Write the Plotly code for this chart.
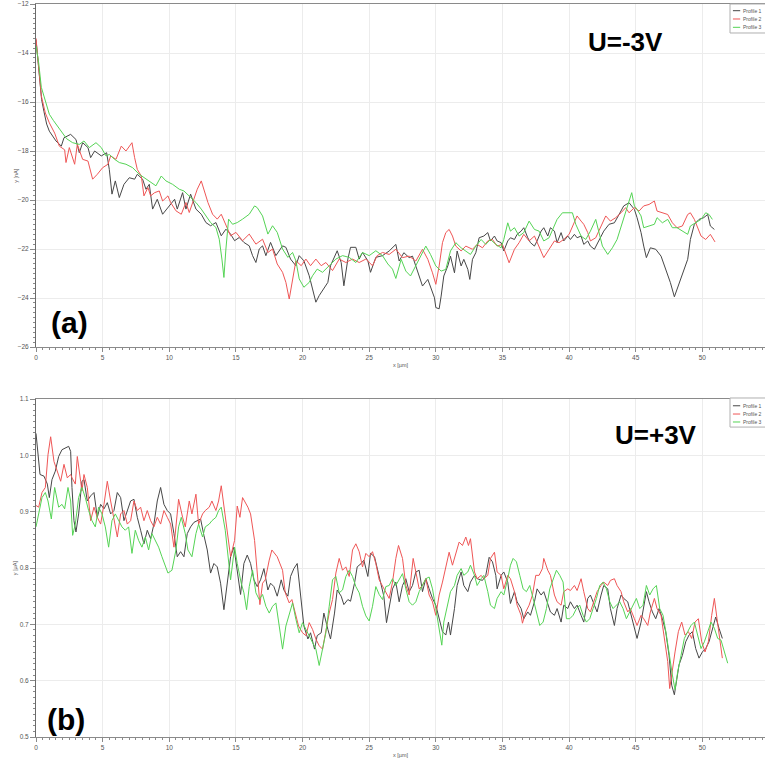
import plotly.graph_objects as go

# ---------------- U = -3 V : current profiles (nA) ----------------
x_a1 = [0, 0.15, 0.3, 0.42, 0.6, 0.8, 1.0, 1.5, 1.9, 2.1, 2.6, 3.0, 3.25, 3.5, 3.9, 4.1, 4.4, 4.9, 5.3, 5.5,
        5.7, 5.95, 6.25, 6.6, 7.0, 7.4, 7.6, 8.0, 8.25, 8.5, 8.75, 9.1, 9.5, 10.0, 10.4, 10.6, 11.0, 11.25, 11.6, 12.0,
        12.4, 12.75, 13.1, 13.5, 13.9, 14.25, 14.6, 14.9, 15.25, 15.6, 16.0, 16.25, 16.5, 16.75, 17.0, 17.25, 17.6, 18.0,
        18.5, 18.75, 19.1, 19.5, 19.75, 20.1, 20.5, 20.75, 21.0, 21.25, 21.5, 21.9, 22.1, 22.4, 22.6, 22.9, 23.1, 23.4,
        23.6, 24.0, 24.25, 24.5, 24.9, 25.1, 25.5, 26.0, 26.5, 27.0, 27.25, 27.6, 28.0, 28.25, 28.6, 29.0, 29.4, 29.6,
        29.9, 30.0, 30.25, 30.4, 30.6, 30.9, 31.1, 31.4, 31.6, 31.9, 32.1, 32.4, 32.55, 32.75, 33.0, 33.25, 33.6, 33.9,
        34.1, 34.4, 34.6, 34.9, 35.1, 35.4, 35.6, 35.9, 36.1, 36.4, 36.6, 36.9, 37.1, 37.4, 37.6, 37.9, 38.1, 38.4,
        38.6, 38.9, 39.1, 39.4, 39.6, 39.9, 40.1, 40.4, 40.6, 40.9, 41.1, 41.4, 41.6, 41.9, 42.1, 42.4, 42.6, 43.0,
        43.4, 43.75, 44.1, 44.5, 44.9, 45.1, 45.4, 45.6, 45.8, 46.1, 46.5, 46.9, 47.25, 47.6, 47.9, 48.1, 48.5, 48.9,
        49.1, 49.4, 49.75, 50.1, 50.4, 50.6, 50.9]
y_a1 = [-13.45, -14.3, -15.2, -15.9, -16.4, -16.9, -17.19, -17.59, -17.8, -17.46, -17.32, -17.53, -18.07, -17.66,
        -17.86, -18.27, -18.0, -18.2, -18.07, -18.75, -19.76, -19.22, -19.9, -19.36, -19.09, -19.15, -18.95, -19.15,
        -19.56, -19.36, -20.37, -19.97, -20.58, -20.24, -19.97, -20.37, -19.7, -20.37, -19.76, -20.37, -20.58, -20.92,
        -21.05, -20.92, -21.46, -21.19, -21.39, -21.66, -21.53, -21.73, -21.87, -22.27, -22.55, -22.0, -21.87, -22.27,
        -21.73, -22.27, -21.87, -21.93, -22.41, -22.68, -22.27, -22.48, -23.09, -23.63, -24.17, -23.9, -23.7, -23.36,
        -22.68, -22.27, -22.07, -22.55, -23.5, -22.41, -21.93, -21.93, -22.41, -22.14, -22.48, -22.95, -22.34, -22.27,
        -22.08, -21.81, -22.49, -22.15, -22.35, -22.29, -22.83, -23.51, -23.24, -23.51, -23.99, -24.39, -24.44, -23.92,
        -23.1, -22.69, -22.29, -22.97, -22.08, -22.69, -22.42, -22.83, -23.24, -22.42, -22.15, -21.54, -21.47, -21.33,
        -21.67, -21.47, -21.67, -21.74, -22.08, -21.67, -21.54, -21.61, -21.4, -21.27, -21.13, -21.54, -21.74, -21.88,
        -21.67, -21.27, -21.13, -21.47, -21.13, -21.27, -21.74, -21.33, -21.67, -21.47, -21.61, -21.4, -21.54, -21.47,
        -21.81, -21.67, -21.88, -22.01, -21.81, -21.47, -21.27, -20.99, -20.93, -20.59, -20.24, -20.11, -20.38, -20.72,
        -21.33, -21.88, -22.35, -21.95, -22.01, -22.29, -22.83, -23.37, -23.95, -23.65, -23.1, -22.42, -21.61, -20.99,
        -20.79, -20.72, -20.59, -21.06, -21.2]

x_a2 = [0, 0.2, 0.4, 0.7, 1.0, 1.4, 1.75, 2.15, 2.25, 2.5, 2.9, 3.1, 3.5, 3.9, 4.25, 4.6, 5.0, 5.4, 5.6, 6.0, 6.4,
        6.75, 7.0, 7.2, 7.4, 7.6, 7.9, 8.1, 8.4, 8.6, 8.9, 9.25, 9.5, 9.9, 10.1, 10.5, 10.9, 11.25, 11.5, 11.9, 12.1,
        12.4, 12.6, 12.9, 13.25, 13.6, 13.9, 14.25, 14.6, 15.0, 15.5, 16.0, 16.5, 17.0, 17.4, 17.75, 18.1, 18.5, 18.75,
        19.0, 19.25, 19.5, 19.9, 20.25, 20.6, 21.0, 21.4, 21.75, 22.25, 22.75, 23.25, 23.75, 24.25, 24.75, 25.25, 25.6,
        26.0, 26.5, 27.0, 27.5, 28.0, 28.5, 29.0, 29.4, 29.75, 30.0, 30.25, 30.5, 30.75, 31.0, 31.25, 31.5, 31.9, 32.25,
        32.75, 33.1, 33.5, 33.9, 34.25, 34.6, 35.0, 35.25, 35.5, 35.9, 36.25, 36.6, 37.0, 37.4, 37.75, 38.1, 38.5, 38.9,
        39.25, 39.6, 40.0, 40.4, 40.6, 40.9, 41.1, 41.4, 41.6, 42.0, 42.4, 42.75, 43.1, 43.5, 43.9, 44.25, 44.5, 44.9,
        45.25, 45.6, 46.0, 46.4, 46.6, 47.0, 47.4, 47.75, 48.1, 48.5, 48.9, 49.1, 49.4, 49.6, 49.9, 50.25, 50.6, 50.95]
y_a2 = [-13.4, -14.5, -15.75, -16.45, -16.85, -17.27, -17.8, -17.95, -18.47, -17.86, -18.54, -17.73, -18.34, -18.41,
        -19.15, -18.95, -18.68, -18.54, -18.2, -18.34, -17.8, -18.0, -17.8, -17.66, -18.27, -18.75, -19.02, -19.83,
        -19.49, -19.83, -19.7, -19.63, -20.04, -19.83, -20.1, -20.44, -20.58, -20.1, -20.51, -19.83, -19.56, -19.22,
        -19.56, -20.1, -20.58, -20.78, -20.58, -20.99, -21.46, -21.32, -21.66, -21.39, -21.8, -21.6, -22.14, -22.0,
        -22.61, -22.95, -23.36, -24.04, -23.22, -22.48, -22.68, -22.41, -22.68, -22.41, -22.68, -22.55, -22.88, -22.41,
        -22.55, -22.41, -22.55, -22.41, -22.68, -22.27, -22.14, -22.22, -22.01, -22.35, -22.29, -22.49, -22.01, -22.42,
        -22.97, -23.44, -22.69, -21.74, -21.33, -21.2, -21.47, -21.88, -22.08, -21.88, -22.01, -21.81, -21.95, -21.67,
        -21.61, -21.88, -21.81, -22.22, -22.56, -22.01, -21.74, -21.4, -21.67, -21.47, -21.88, -22.35, -22.01, -21.67,
        -21.74, -21.61, -21.4, -20.93, -20.65, -20.86, -20.99, -21.33, -21.67, -21.54, -21.06, -20.65, -20.86, -20.72,
        -20.52, -20.31, -20.52, -20.31, -20.45, -20.24, -20.18, -20.04, -20.45, -20.52, -20.59, -20.93, -21.13, -21.06,
        -20.59, -20.52, -20.79, -21.06, -21.47, -21.61, -21.4, -21.71]

x_a3 = [0, 0.2, 0.4, 0.8, 1.0, 1.3, 1.8, 2.3, 2.75, 3.25, 3.6, 4.0, 4.5, 4.9, 5.25, 5.5, 5.9, 6.25, 6.75, 7.25, 7.75,
        8.1, 8.5, 9.0, 9.4, 9.75, 10.25, 10.75, 11.1, 11.5, 12.0, 12.4, 12.75, 13.1, 13.5, 13.75, 13.95, 14.1, 14.25,
        14.45, 14.75, 15.1, 15.5, 16.0, 16.4, 16.6, 17.0, 17.4, 17.75, 18.1, 18.5, 18.9, 19.25, 19.5, 19.75, 20.1, 20.5,
        20.75, 21.1, 21.5, 22.0, 22.5, 23.0, 23.5, 24.0, 24.5, 25.0, 25.5, 26.0, 26.4, 26.75, 27.0, 27.4, 27.75, 28.1,
        28.5, 28.9, 29.25, 29.6, 30.0, 30.4, 30.75, 31.1, 31.5, 31.9, 32.25, 32.6, 33.0, 33.4, 33.75, 34.1, 34.5, 34.9,
        35.1, 35.4, 35.6, 35.9, 36.25, 36.6, 37.0, 37.4, 37.75, 38.1, 38.5, 38.9, 39.1, 39.5, 39.9, 40.25, 40.5, 40.9,
        41.25, 41.6, 42.0, 42.25, 42.5, 42.9, 43.25, 43.6, 44.0, 44.3, 44.55, 44.7, 44.9, 45.1, 45.4, 45.6, 46.0, 46.4,
        46.6, 47.0, 47.4, 47.75, 48.1, 48.5, 48.9, 49.1, 49.5, 49.9, 50.25, 50.5, 50.75]
y_a3 = [-13.7, -14.4, -15.4, -16.2, -16.5, -16.75, -17.15, -17.5, -17.66, -17.73, -17.59, -17.86, -17.66, -17.86,
        -18.2, -18.14, -18.34, -18.47, -18.54, -18.68, -18.95, -19.09, -19.22, -19.42, -19.02, -19.22, -19.36, -19.56,
        -19.63, -19.83, -20.1, -20.37, -20.65, -20.92, -21.12, -21.6, -22.41, -23.16, -22.0, -20.78, -20.99, -20.92,
        -20.78, -20.58, -20.24, -20.31, -20.65, -21.39, -21.05, -21.32, -22.0, -22.34, -22.14, -22.48, -23.22, -23.56,
        -23.36, -23.09, -22.82, -22.95, -22.68, -22.41, -22.27, -22.34, -22.55, -22.14, -22.27, -22.07, -22.27, -22.61,
        -22.82, -23.2, -22.42, -22.9, -23.1, -22.69, -22.22, -21.88, -22.22, -22.69, -22.9, -22.83, -22.08, -21.74,
        -21.95, -22.08, -22.22, -21.88, -21.61, -21.81, -21.61, -21.81, -21.95, -21.61, -20.93, -21.27, -21.13, -21.47,
        -21.33, -20.86, -21.2, -21.27, -21.67, -21.54, -21.06, -20.79, -20.52, -20.52, -20.52, -20.99, -21.47, -21.61,
        -21.27, -20.79, -21.33, -21.88, -22.22, -21.95, -21.61, -20.93, -20.38, -20.04, -19.7, -20.24, -20.38, -20.65,
        -21.13, -21.06, -20.99, -20.72, -20.93, -20.79, -21.13, -21.13, -21.27, -21.4, -21.06, -20.93, -20.79, -20.52,
        -20.59, -20.79]

# ---------------- U = +3 V : current profiles (µA) ----------------
x_b1 = [0.0, 0.15, 0.3, 0.6, 0.85, 1.0, 1.2, 1.45, 1.7, 1.95, 2.2, 2.45, 2.6, 2.7, 2.85, 3.0, 3.2, 3.45, 3.6, 3.85,
        4.1, 4.35, 4.6, 4.85, 5.1, 5.35, 5.6, 5.85, 6.1, 6.35, 6.6, 6.85, 7.1, 7.35, 7.6, 7.85, 8.1, 8.35, 8.6, 8.85,
        9.1, 9.35, 9.6, 9.85, 10.1, 10.35, 10.6, 10.85, 11.1, 11.35, 11.6, 11.85, 12.1, 12.35, 12.6, 12.85, 13.1, 13.35,
        13.6, 13.85, 14.1, 14.35, 14.6, 14.85, 15.1, 15.35, 15.6, 15.85, 16.1, 16.35, 16.6, 16.85, 17.1, 17.4, 17.6,
        17.85, 18.1, 18.4, 18.6, 18.9, 19.1, 19.35, 19.6, 19.9, 20.1, 20.4, 20.6, 20.9, 21.1, 21.4, 21.6, 21.9, 22.1,
        22.4, 22.6, 22.9, 23.1, 23.4, 23.6, 23.9, 24.1, 24.4, 24.6, 24.9, 25.1, 25.4, 25.6, 25.9, 26.1, 26.3, 26.5,
        26.75, 27.0, 27.25, 27.5, 27.75, 28.0, 28.25, 28.5, 28.75, 29.0, 29.25, 29.5, 29.75, 30.0, 30.25, 30.5, 30.75,
        30.95, 31.1, 31.4, 31.6, 31.9, 32.1, 32.4, 32.6, 32.9, 33.1, 33.5, 33.75, 34.0, 34.25, 34.5, 34.6, 34.9, 35.1,
        35.4, 35.6, 35.9, 36.1, 36.4, 36.6, 36.9, 37.1, 37.4, 37.6, 37.9, 38.1, 38.4, 38.6, 38.9, 39.1, 39.4, 39.6,
        39.9, 40.1, 40.4, 40.6, 40.9, 41.1, 41.4, 41.6, 41.9, 42.1, 42.4, 42.6, 42.9, 43.1, 43.4, 43.6, 43.9, 44.1,
        44.4, 44.6, 44.9, 45.1, 45.4, 45.6, 45.8, 46.0, 46.25, 46.5, 46.75, 47.0, 47.25, 47.5, 47.7, 47.9, 48.05,
        48.25, 48.5, 48.75, 49.0, 49.25, 49.5, 49.75, 50.0, 50.25, 50.5, 50.75, 51.0, 51.25, 51.5]
y_b1 = [1.039, 1.001, 0.966, 0.963, 0.949, 0.925, 0.957, 0.972, 0.998, 1.010, 1.013, 1.016, 1.007, 0.943, 0.884,
        0.864, 0.896, 0.954, 0.957, 0.919, 0.928, 0.934, 0.890, 0.913, 0.905, 0.916, 0.896, 0.902, 0.934, 0.925,
        0.884, 0.902, 0.919, 0.922, 0.890, 0.867, 0.843, 0.867, 0.852, 0.878, 0.919, 0.943, 0.913, 0.902, 0.896,
        0.861, 0.820, 0.829, 0.820, 0.861, 0.873, 0.881, 0.884, 0.887, 0.858, 0.832, 0.791, 0.808, 0.802, 0.773,
        0.726, 0.773, 0.820, 0.837, 0.796, 0.753, 0.808, 0.823, 0.808, 0.779, 0.767, 0.779, 0.799, 0.761, 0.773,
        0.767, 0.750, 0.779, 0.761, 0.750, 0.785, 0.799, 0.808, 0.741, 0.697, 0.674, 0.685, 0.656, 0.680, 0.685,
        0.720, 0.691, 0.674, 0.720, 0.761, 0.750, 0.735, 0.744, 0.741, 0.773, 0.802, 0.808, 0.814, 0.785, 0.826,
        0.820, 0.799, 0.773, 0.750, 0.703, 0.732, 0.763, 0.775, 0.740, 0.769, 0.781, 0.758, 0.769, 0.793, 0.796,
        0.758, 0.781, 0.763, 0.746, 0.734, 0.710, 0.687, 0.681, 0.704, 0.681, 0.728, 0.769, 0.793, 0.769, 0.758,
        0.775, 0.787, 0.781, 0.778, 0.787, 0.819, 0.811, 0.787, 0.763, 0.787, 0.793, 0.775, 0.737, 0.758, 0.740,
        0.728, 0.710, 0.722, 0.716, 0.740, 0.763, 0.752, 0.758, 0.734, 0.722, 0.716, 0.728, 0.704, 0.734, 0.728,
        0.740, 0.728, 0.734, 0.716, 0.704, 0.746, 0.752, 0.734, 0.722, 0.752, 0.769, 0.763, 0.728, 0.698, 0.728,
        0.752, 0.746, 0.740, 0.722, 0.698, 0.675, 0.704, 0.734, 0.758, 0.740, 0.722, 0.710, 0.728, 0.710, 0.687,
        0.645, 0.592, 0.575, 0.598, 0.628, 0.645, 0.669, 0.681, 0.687, 0.657, 0.640, 0.651, 0.657, 0.669, 0.693,
        0.713, 0.693, 0.675]

x_b2 = [0.0, 0.2, 0.45, 0.7, 0.9, 1.1, 1.35, 1.6, 1.85, 2.1, 2.35, 2.6, 2.7, 2.95, 3.1, 3.35, 3.45, 3.6, 3.85, 4.1,
        4.35, 4.6, 4.85, 5.1, 5.35, 5.6, 5.85, 6.1, 6.35, 6.6, 6.85, 7.1, 7.35, 7.6, 7.85, 8.1, 8.35, 8.6, 8.85, 9.1,
        9.35, 9.6, 9.85, 10.1, 10.35, 10.6, 10.7, 11.0, 11.2, 11.5, 11.7, 12.0, 12.2, 12.5, 12.7, 13.0, 13.2, 13.5,
        13.7, 13.9, 14.1, 14.4, 14.6, 14.9, 15.1, 15.3, 15.5, 15.9, 16.1, 16.4, 16.6, 16.8, 17.0, 17.2, 17.5, 17.7,
        18.1, 18.5, 18.7, 19.0, 19.2, 19.5, 19.7, 20.0, 20.25, 20.5, 20.75, 21.0, 21.25, 21.5, 21.75, 22.0, 22.25,
        22.5, 22.75, 23.0, 23.25, 23.5, 23.75, 24.0, 24.25, 24.5, 24.75, 25.0, 25.25, 25.5, 25.75, 26.0, 26.25, 26.5,
        26.75, 27.0, 27.2, 27.5, 27.75, 28.0, 28.3, 28.5, 28.75, 29.0, 29.25, 29.5, 29.75, 30.0, 30.25, 30.5, 30.75,
        31.0, 31.25, 31.5, 31.75, 32.0, 32.25, 32.45, 32.6, 32.9, 33.1, 33.4, 33.6, 33.9, 34.1, 34.4, 34.6, 34.9,
        35.1, 35.4, 35.6, 35.9, 36.1, 36.4, 36.5, 36.75, 37.0, 37.25, 37.5, 37.75, 38.0, 38.1, 38.4, 38.6, 38.9, 39.1,
        39.4, 39.6, 39.9, 40.1, 40.4, 40.6, 40.9, 41.1, 41.4, 41.6, 41.9, 42.1, 42.4, 42.6, 42.9, 43.1, 43.4, 43.6,
        43.9, 44.1, 44.4, 44.6, 44.9, 45.1, 45.4, 45.6, 45.9, 46.1, 46.4, 46.6, 46.9, 47.1, 47.4, 47.55, 47.75, 47.95,
        48.2, 48.45, 48.7, 48.95, 49.2, 49.45, 49.7, 49.95, 50.2, 50.45, 50.7, 50.9, 51.1, 51.4, 51.5]
y_b2 = [0.911, 0.908, 0.934, 0.943, 1.001, 1.033, 0.989, 0.972, 0.954, 0.984, 0.960, 0.966, 0.960, 0.949, 0.998,
        0.954, 0.937, 0.966, 0.943, 0.884, 0.908, 0.890, 0.878, 0.913, 0.954, 0.919, 0.884, 0.855, 0.896, 0.902,
        0.878, 0.884, 0.919, 0.902, 0.908, 0.884, 0.902, 0.884, 0.873, 0.890, 0.878, 0.902, 0.890, 0.878, 0.837,
        0.896, 0.922, 0.890, 0.873, 0.919, 0.896, 0.931, 0.878, 0.896, 0.902, 0.908, 0.919, 0.902, 0.919, 0.946,
        0.908, 0.855, 0.820, 0.849, 0.910, 0.890, 0.925, 0.908, 0.896, 0.849, 0.796, 0.735, 0.773, 0.779, 0.814,
        0.832, 0.820, 0.796, 0.756, 0.738, 0.744, 0.715, 0.697, 0.685, 0.680, 0.703, 0.691, 0.674, 0.662, 0.656,
        0.691, 0.720, 0.744, 0.791, 0.817, 0.796, 0.802, 0.785, 0.832, 0.843, 0.829, 0.802, 0.826, 0.820, 0.829,
        0.808, 0.779, 0.767, 0.756, 0.746, 0.775, 0.817, 0.840, 0.817, 0.769, 0.752, 0.817, 0.793, 0.763, 0.769,
        0.781, 0.752, 0.740, 0.716, 0.752, 0.775, 0.799, 0.828, 0.805, 0.828, 0.846, 0.840, 0.855, 0.840, 0.852,
        0.793, 0.781, 0.787, 0.781, 0.787, 0.817, 0.828, 0.793, 0.787, 0.763, 0.787, 0.781, 0.758, 0.734, 0.716,
        0.702, 0.722, 0.734, 0.752, 0.787, 0.787, 0.799, 0.817, 0.796, 0.787, 0.752, 0.740, 0.734, 0.758, 0.763,
        0.760, 0.769, 0.760, 0.781, 0.758, 0.728, 0.722, 0.746, 0.758, 0.769, 0.775, 0.769, 0.778, 0.781, 0.769,
        0.758, 0.740, 0.722, 0.728, 0.710, 0.698, 0.716, 0.710, 0.698, 0.722, 0.746, 0.728, 0.716, 0.681, 0.634,
        0.586, 0.622, 0.651, 0.687, 0.704, 0.681, 0.687, 0.675, 0.704, 0.710, 0.669, 0.651, 0.669, 0.716, 0.746,
        0.710, 0.657, 0.640]

x_b3 = [0.0, 0.2, 0.45, 0.7, 0.9, 1.15, 1.4, 1.7, 1.95, 2.15, 2.4, 2.6, 2.75, 2.95, 3.2, 3.45, 3.7, 3.95, 4.2, 4.45,
        4.7, 4.95, 5.2, 5.45, 5.7, 5.95, 6.2, 6.45, 6.7, 6.95, 7.2, 7.45, 7.7, 7.95, 8.2, 8.45, 8.7, 8.95, 9.2, 9.45,
        9.7, 9.9, 10.2, 10.5, 10.7, 10.9, 11.2, 11.4, 11.7, 12.0, 12.2, 12.5, 12.7, 13.0, 13.2, 13.5, 13.7, 13.9, 14.2,
        14.4, 14.6, 14.9, 15.1, 15.4, 15.6, 15.8, 16.0, 16.25, 16.5, 16.75, 17.0, 17.25, 17.5, 17.75, 18.0, 18.25,
        18.5, 18.75, 19.0, 19.25, 19.5, 19.75, 20.0, 20.25, 20.5, 20.75, 21.0, 21.25, 21.5, 21.75, 22.0, 22.25, 22.5,
        22.75, 23.0, 23.25, 23.5, 23.75, 24.0, 24.25, 24.5, 24.75, 25.0, 25.25, 25.5, 25.75, 26.0, 26.25, 26.5, 26.75,
        27.0, 27.25, 27.5, 27.75, 28.0, 28.25, 28.5, 28.75, 29.0, 29.25, 29.5, 29.75, 30.0, 30.25, 30.45, 30.6, 30.9,
        31.1, 31.4, 31.6, 31.9, 32.1, 32.4, 32.6, 32.9, 33.1, 33.4, 33.6, 33.9, 34.1, 34.4, 34.6, 34.9, 35.1, 35.4,
        35.6, 35.8, 36.05, 36.3, 36.55, 36.8, 37.05, 37.3, 37.55, 37.8, 38.05, 38.3, 38.55, 38.8, 39.05, 39.3, 39.55,
        39.8, 40.05, 40.3, 40.55, 40.8, 41.05, 41.3, 41.55, 41.8, 42.05, 42.3, 42.55, 42.8, 43.05, 43.3, 43.55, 43.8,
        44.05, 44.3, 44.55, 44.8, 45.05, 45.3, 45.55, 45.8, 46.05, 46.3, 46.55, 46.8, 47.05, 47.3, 47.55, 47.75,
        47.95, 48.15, 48.4, 48.65, 48.9, 49.15, 49.4, 49.65, 49.9, 50.15, 50.4, 50.65, 50.9, 51.15, 51.4, 51.6, 51.9]
y_b3 = [0.873, 0.896, 0.925, 0.934, 0.919, 0.887, 0.943, 0.908, 0.913, 0.905, 0.943, 0.919, 0.858, 0.878, 0.925,
        0.943, 0.925, 0.902, 0.884, 0.873, 0.908, 0.896, 0.873, 0.837, 0.884, 0.896, 0.884, 0.873, 0.867, 0.873,
        0.826, 0.867, 0.849, 0.837, 0.855, 0.832, 0.861, 0.849, 0.837, 0.820, 0.802, 0.791, 0.796, 0.832, 0.873,
        0.890, 0.861, 0.832, 0.820, 0.861, 0.878, 0.855, 0.873, 0.878, 0.884, 0.890, 0.902, 0.908, 0.867, 0.820,
        0.779, 0.837, 0.808, 0.773, 0.756, 0.726, 0.767, 0.796, 0.756, 0.744, 0.753, 0.732, 0.720, 0.732, 0.738,
        0.697, 0.656, 0.697, 0.720, 0.738, 0.709, 0.685, 0.703, 0.691, 0.680, 0.668, 0.656, 0.627, 0.656, 0.685,
        0.732, 0.779, 0.785, 0.756, 0.761, 0.785, 0.796, 0.785, 0.767, 0.756, 0.732, 0.715, 0.706, 0.732, 0.767,
        0.753, 0.744, 0.767, 0.769, 0.781, 0.769, 0.781, 0.790, 0.763, 0.740, 0.734, 0.740, 0.758, 0.769, 0.781,
        0.784, 0.763, 0.728, 0.687, 0.663, 0.704, 0.734, 0.758, 0.769, 0.787, 0.799, 0.787, 0.793, 0.805, 0.787,
        0.769, 0.781, 0.787, 0.758, 0.734, 0.728, 0.746, 0.758, 0.752, 0.781, 0.805, 0.817, 0.811, 0.787, 0.763,
        0.758, 0.769, 0.746, 0.722, 0.698, 0.704, 0.728, 0.763, 0.781, 0.796, 0.787, 0.775, 0.710, 0.710, 0.716,
        0.728, 0.734, 0.716, 0.704, 0.710, 0.728, 0.746, 0.769, 0.775, 0.763, 0.740, 0.728, 0.734, 0.740, 0.728,
        0.710, 0.722, 0.734, 0.746, 0.728, 0.734, 0.769, 0.752, 0.763, 0.769, 0.728, 0.716, 0.681, 0.640, 0.610,
        0.584, 0.616, 0.645, 0.675, 0.687, 0.698, 0.704, 0.681, 0.657, 0.669, 0.687, 0.704, 0.693, 0.675, 0.672,
        0.657, 0.631]

profile_names = ["Profile 1", "Profile 2", "Profile 3"]
profile_colors = ["#474747", "#ef5656", "#55d455"]

x_ticks = list(range(0, 55, 5))
panel_labels = ["(a)", "(b)"]
voltage_labels = ["U=-3V", "U=+3V"]
y_titles = ["y [nA]", "y [µA]"]

fig = go.Figure()

top_sets = [(x_a1, y_a1), (x_a2, y_a2), (x_a3, y_a3)]
bottom_sets = [(x_b1, y_b1), (x_b2, y_b2), (x_b3, y_b3)]
for (xs, ys), name, col in zip(top_sets, profile_names, profile_colors):
    fig.add_trace(go.Scatter(x=xs, y=ys, mode="lines", name=name,
                             line=dict(color=col, width=1), xaxis="x", yaxis="y", showlegend=False))
for (xs, ys), name, col in zip(bottom_sets, profile_names, profile_colors):
    fig.add_trace(go.Scatter(x=xs, y=ys, mode="lines", name=name,
                             line=dict(color=col, width=1), xaxis="x2", yaxis="y2", showlegend=False))

tick_font = dict(family="Liberation Sans, Arial, sans-serif", size=6.5, color="#555555")
title_font = dict(family="Liberation Sans, Arial, sans-serif", size=5.5, color="#555555")


def x_axis(anchor):
    return dict(domain=[0, 1], anchor=anchor, range=[0, 54.7], tickvals=x_ticks,
                showgrid=True, gridcolor="#ececec", gridwidth=1, zeroline=False,
                showline=True, linecolor="#8a8a8a", linewidth=1, mirror=True,
                ticks="outside", ticklen=4, tickcolor="#8a8a8a", tickfont=tick_font,
                minor=dict(dtick=0.5, ticks="outside", ticklen=2, tickcolor="#8a8a8a", showgrid=False),
                title=dict(text="x [µm]", font=title_font, standoff=3), automargin=False)


def y_axis(anchor, domain, rng, dtick, mdtick, fmt):
    return dict(domain=domain, anchor=anchor, range=rng, dtick=dtick, tickformat=fmt,
                showgrid=True, gridcolor="#ececec", gridwidth=1, zeroline=False,
                showline=True, linecolor="#6a6a6a", linewidth=1,
                ticks="outside", ticklen=5, tickcolor="#8a8a8a", tickfont=tick_font,
                minor=dict(dtick=mdtick, ticks="outside", ticklen=2, tickcolor="#8a8a8a", showgrid=False),
                automargin=False)


fig.update_layout(
    width=765, height=765,
    margin=dict(l=36, r=0, t=4, b=28),
    paper_bgcolor="white", plot_bgcolor="white",
    xaxis=x_axis("y"),
    yaxis=y_axis("x", [0.532, 1.0], [-26, -12], 2, 0.2, "d"),
    xaxis2=x_axis("y2"),
    yaxis2=y_axis("x2", [0.0, 0.4611], [0.5, 1.1], 0.1, 0.01, ".1f"),
)

# y-axis titles, set just left of the tick labels
for yr, txt in [("y domain", y_titles[0]), ("y2 domain", y_titles[1])]:
    fig.add_annotation(x=-0.0285, y=0.5, xref="x domain", yref=yr, text=txt, textangle=-90,
                       showarrow=False, xanchor="center", yanchor="middle", font=title_font)

# panel captions and bias labels
big_font = dict(family="Liberation Sans, Arial, sans-serif", size=26, color="black")
fig.add_annotation(x=44.2, y=-13.55, xref="x", yref="y", text="<b>" + voltage_labels[0] + "</b>",
                   showarrow=False, font=big_font)
fig.add_annotation(x=2.55, y=-24.98, xref="x", yref="y", text="<b>" + panel_labels[0] + "</b>",
                   showarrow=False, font=dict(big_font, size=30))
fig.add_annotation(x=46.5, y=1.036, xref="x2", yref="y2", text="<b>" + voltage_labels[1] + "</b>",
                   showarrow=False, font=big_font)
fig.add_annotation(x=2.25, y=0.531, xref="x2", yref="y2", text="<b>" + panel_labels[1] + "</b>",
                   showarrow=False, font=dict(big_font, size=30))

# compact legend boxes in the top-right corner of each panel
legend_font = dict(family="Liberation Sans, Arial, sans-serif", size=5, color="#555555")
for xr, yr, top, bottom, rows in [("x domain", "y domain", 1.0, 0.9155, [0.9805, 0.9563, 0.932]),
                                  ("x domain", "y2 domain", 1.003, 0.917, [0.980, 0.9556, 0.932])]:
    fig.add_shape(type="rect", xref=xr, yref=yr, x0=0.952, x1=1.02, y0=bottom, y1=top,
                  line=dict(color="#b0b0b0", width=1), fillcolor="white")
    for ry, name, col in zip(rows, profile_names, profile_colors):
        fig.add_shape(type="line", xref=xr, yref=yr, x0=0.956, x1=0.966, y0=ry, y1=ry,
                      line=dict(color=col, width=1))
        fig.add_annotation(x=0.9985, y=ry, xref=xr, yref=yr, text=name, showarrow=False,
                           xanchor="right", yanchor="middle", font=legend_font)

fig.write_html("out.html")
